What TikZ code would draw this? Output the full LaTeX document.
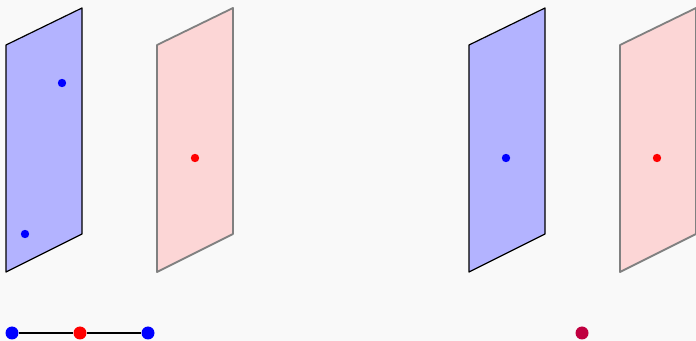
\documentclass[tikz,border=0pt]{standalone}
\definecolor{bgc}{HTML}{F9F9F9}
\definecolor{pinkf}{HTML}{FCD6D6}
\definecolor{bluef}{HTML}{B3B3FF}
\definecolor{mixc}{HTML}{C00040}
\begin{document}
\begin{tikzpicture}[x=0.5pt,y=-0.5pt,
  blueplane/.style={fill=bluef,draw=black,line width=0.6pt,line join=round},
  pinkplane/.style={fill=pinkf,draw=black!50,line width=0.9pt,line join=round},
  sdot/.style={circle,inner sep=0pt,minimum size=4.2pt},
  bdot/.style={circle,inner sep=0pt,minimum size=6.5pt}]
\fill[bgc] (0,0) rectangle (696,341);
\useasboundingbox (0,0) rectangle (696,341);
% left pair
\draw[blueplane] (6,45) -- (82,8) -- (82,234) -- (6,272) -- cycle;
\draw[pinkplane] (157,45) -- (233,8) -- (233,234) -- (157,272) -- cycle;
\node[sdot,fill=blue] (b1) at (62,83) {};
\node[sdot,fill=blue] (b2) at (25,234) {};
\node[sdot,fill=red] (r1) at (195,158) {};
% right pair
\draw[blueplane] (469,45) -- (545,8) -- (545,234) -- (469,272) -- cycle;
\draw[pinkplane] (620,45) -- (696,8) -- (696,234) -- (620,272) -- cycle;
\node[sdot,fill=blue] (b3) at (506,158) {};
\node[sdot,fill=red] (r2) at (657,158) {};
% bottom
\node[bdot,fill=blue] (p1) at (12,333) {};
\node[bdot,fill=red] (p2) at (80,333) {};
\node[bdot,fill=blue] (p3) at (148,333) {};
\draw[line width=0.7pt] (p1) -- (p2) -- (p3);
\node[bdot,fill=mixc] (p4) at (582,333) {};
\end{tikzpicture}
\end{document}
